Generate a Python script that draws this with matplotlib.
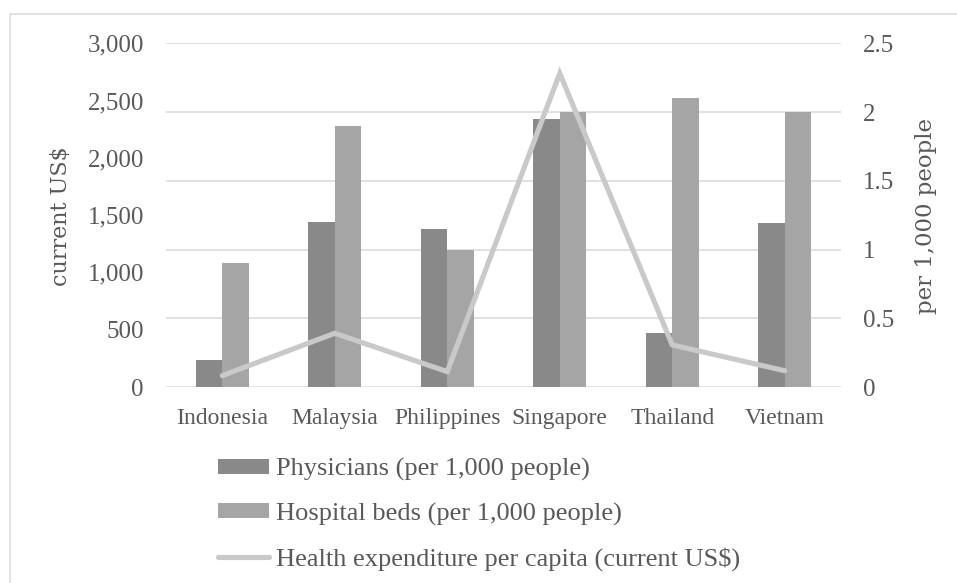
import matplotlib.pyplot as plt
from matplotlib.patches import Rectangle
from matplotlib.ticker import FuncFormatter
import numpy as np

countries = ["Indonesia", "Malaysia", "Philippines", "Singapore", "Thailand", "Vietnam"]
physicians = [0.20, 1.20, 1.15, 1.95, 0.39, 1.19]
hospital_beds = [0.90, 1.90, 1.00, 2.00, 2.10, 2.00]
health_exp = [99, 469, 134, 2738, 367, 142]

TXT = "#595959"
GRID = "#d9d9d9"
SERIF = "Liberation Serif"

fig = plt.figure(figsize=(9.57, 5.83), dpi=100)
W, H = 957, 583

# light frame round the chart (right and bottom run off the picture)
fig.patches.append(Rectangle((10 / W, -0.1), 1, 1.1 - 14 / H, transform=fig.transFigure,
                             fill=False, edgecolor=GRID, linewidth=1.1))

ax2 = fig.add_axes([166 / W, 1 - 387 / H, 675 / W, 343.7 / H])
ax = ax2.twinx()
ax.yaxis.tick_left()
ax2.yaxis.tick_right()
ax.set_zorder(ax2.get_zorder() + 1)
ax.patch.set_visible(False)

x = np.arange(len(countries))
bw = 0.237
b1 = ax2.bar(x - bw / 2, physicians, bw, color="#898989", label="Physicians (per 1,000 people)")
b2 = ax2.bar(x + bw / 2, hospital_beds, bw, color="#a5a5a5", label="Hospital beds (per 1,000 people)")
ln, = ax.plot(x, health_exp, color="#c9c9c9", lw=3.7, solid_capstyle="round",
              solid_joinstyle="miter", label="Health expenditure per capita (current US$)")

ax2.set_xlim(-0.5, len(countries) - 0.5)
ax2.set_ylim(0, 2.5)
ax.set_ylim(0, 3000)
ax2.set_yticks(np.arange(0, 2.51, 0.5))
ax.set_yticks(np.arange(0, 3001, 500))
ax2.yaxis.set_major_formatter(FuncFormatter(lambda v, p: f"{v:g}"))
ax.yaxis.set_major_formatter(FuncFormatter(lambda v, p: f"{v:,.0f}"))

ax2.set_axisbelow(True)
ax2.grid(axis="y", color=GRID, linewidth=1.1)
for a in (ax, ax2):
    for s in a.spines.values():
        s.set_visible(False)
    a.tick_params(length=0, colors=TXT)

ax2.set_xticks(x)
ax2.set_xticklabels(countries, fontfamily=SERIF, fontsize=17, color=TXT)
ax2.tick_params(axis="x", pad=15)
for t in ax.get_yticklabels() + ax2.get_yticklabels():
    t.set_fontfamily(SERIF)
    t.set_fontsize(18)
ax.tick_params(axis="y", pad=16)
ax2.tick_params(axis="y", pad=16)

# axis titles
fig.text(61 / W, 1 - 216 / H, "current US$", rotation=90, ha="center", va="center",
         fontfamily="DejaVu Serif", fontsize=16, color=TXT)
fig.text(926 / W, 1 - 216 / H, "per 1,000 people", rotation=90, ha="center", va="center",
         fontfamily="DejaVu Serif", fontsize=16.5, color=TXT)

leg = fig.legend([b1, b2, ln], [b1.get_label(), b2.get_label(), ln.get_label()],
                 loc="upper left", bbox_to_anchor=(194 / W, 1 - 434 / H), frameon=False,
                 prop={"family": SERIF, "size": 19}, labelcolor=TXT,
                 handlelength=1.95, handleheight=0.5, handletextpad=0.27, labelspacing=0.82)

fig.savefig("out.png", dpi=100)
